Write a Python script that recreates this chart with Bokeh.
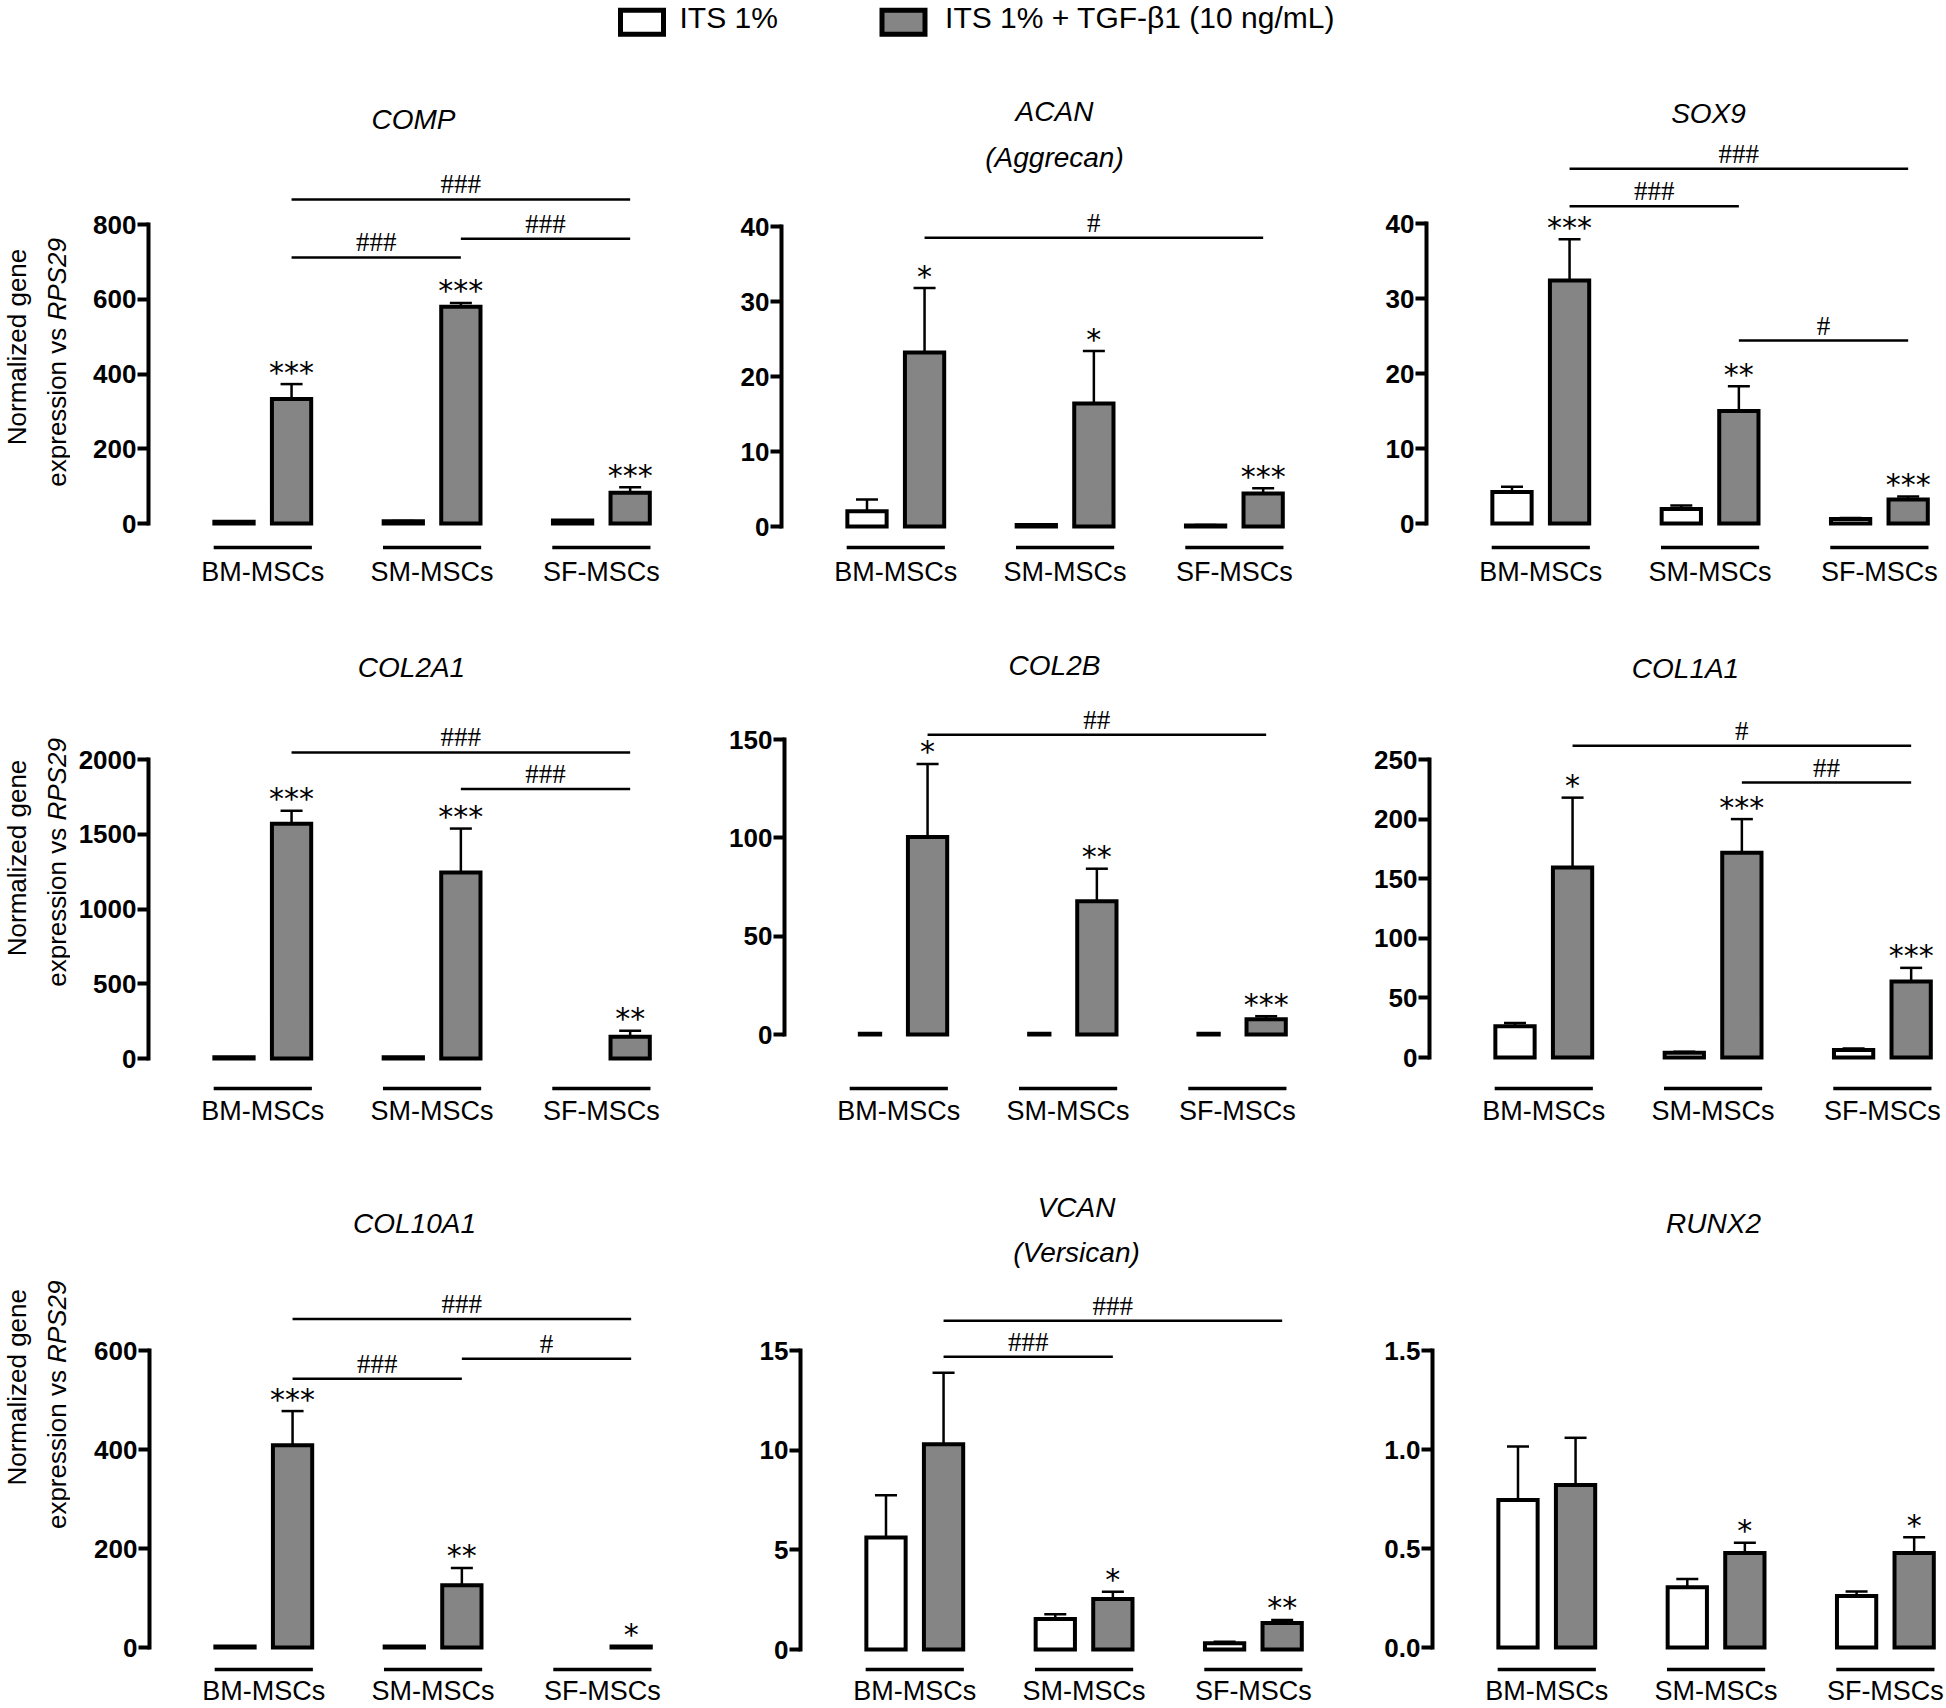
import math
import numpy as np
from bokeh.plotting import figure
from bokeh.layouts import column, row
from bokeh.models import Range1d, FixedTicker, Label, NumeralTickFormatter
from bokeh.core.properties import value
from bokeh.embed import file_html
from bokeh.resources import INLINE

NAN = float("nan")

# ---------------- data ----------------
GROUPS = ["BM-MSCs", "SM-MSCs", "SF-MSCs"]
SERIES = ["ITS 1%", "ITS 1% + TGF-\u03b21 (10 ng/mL)"]
SERIES_COLORS = ["#ffffff", "#858585"]
YLABEL_LINE1 = "Normalized gene"
YLABEL_LINE2 = ["expression vs ", "RPS29"]

COMP_ITS = [5, 6, 8]
COMP_ITS_SD = [0.5, 0.5, 0.5]
COMP_TGF = [333, 580, 82]
COMP_TGF_SD = [40, 10, 15]
COMP_STARS = ["***", "***", "***"]
COMP_SIG = [(0, 2, 867, "###"), (0, 1, 712, "###"), (1, 2, 762, "###")]
COMP_TICKS = [0, 200, 400, 600, 800]

ACAN_ITS = [2.05, 0.2, 0.15]
ACAN_ITS_SD = [1.55, 0.05, 0.05]
ACAN_TGF = [23.2, 16.4, 4.4]
ACAN_TGF_SD = [8.6, 7.0, 0.7]
ACAN_STARS = ["*", "*", "***"]
ACAN_SIG = [(0, 2, 38.5, "#")]
ACAN_TICKS = [0, 10, 20, 30, 40]

SOX9_ITS = [4.2, 1.95, 0.6]
SOX9_ITS_SD = [0.7, 0.45, 0.15]
SOX9_TGF = [32.4, 15.0, 3.2]
SOX9_TGF_SD = [5.5, 3.3, 0.4]
SOX9_STARS = ["***", "**", "***"]
SOX9_SIG = [(0, 2, 47.3, "###"), (0, 1, 42.3, "###"), (1, 2, 24.4, "#")]
SOX9_TICKS = [0, 10, 20, 30, 40]

COL2A1_ITS = [8, 8, NAN]
COL2A1_ITS_SD = [1, 1, NAN]
COL2A1_TGF = [1570, 1244, 145]
COL2A1_TGF_SD = [87, 294, 40]
COL2A1_STARS = ["***", "***", "**"]
COL2A1_SIG = [(0, 2, 2047, "###"), (1, 2, 1802, "###")]
COL2A1_TICKS = [0, 500, 1000, 1500, 2000]

COL2B_ITS = [0.4, 0.4, 0.4]
COL2B_ITS_SD = [0.05, 0.05, 0.05]
COL2B_TGF = [100.4, 67.7, 7.8]
COL2B_TGF_SD = [37.2, 16.6, 1.5]
COL2B_STARS = ["*", "**", "***"]
COL2B_SIG = [(0, 2, 152.4, "##")]
COL2B_TICKS = [0, 50, 100, 150]

COL1A1_ITS = [26.3, 3.9, 6.2]
COL1A1_ITS_SD = [2.7, 0.9, 1.3]
COL1A1_TGF = [159.4, 171.7, 63.8]
COL1A1_TGF_SD = [58.6, 28.3, 11.4]
COL1A1_STARS = ["*", "***", "***"]
COL1A1_SIG = [(0, 2, 261.5, "#"), (1, 2, 230.7, "##")]
COL1A1_TICKS = [0, 50, 100, 150, 200, 250]

COL10A1_ITS = [2, 2, NAN]
COL10A1_ITS_SD = [0.3, 0.3, NAN]
COL10A1_TGF = [409, 126, 2]
COL10A1_TGF_SD = [69, 35, 0.5]
COL10A1_STARS = ["***", "**", "*"]
COL10A1_SIG = [(0, 2, 664, "###"), (0, 1, 543.5, "###"), (1, 2, 584, "#")]
COL10A1_TICKS = [0, 200, 400, 600]

VCAN_ITS = [5.63, 1.53, 0.32]
VCAN_ITS_SD = [2.11, 0.24, 0.07]
VCAN_TGF = [10.3, 2.54, 1.33]
VCAN_TGF_SD = [3.6, 0.36, 0.16]
VCAN_STARS = ["", "*", "**"]
VCAN_SIG = [(0, 2, 16.5, "###"), (0, 1, 14.7, "###")]
VCAN_TICKS = [0, 5, 10, 15]

RUNX2_ITS = [0.746, 0.305, 0.261]
RUNX2_ITS_SD = [0.27, 0.041, 0.023]
RUNX2_TGF = [0.822, 0.478, 0.478]
RUNX2_TGF_SD = [0.238, 0.052, 0.08]
RUNX2_STARS = ["", "*", "*"]
RUNX2_SIG = []
RUNX2_TICKS = [0, 0.5, 1.0, 1.5]

# ---------------- style / layout ----------------
FONT = "Liberation Sans"
PXU = 169.3       # px per group unit
X0 = -0.675       # x value at the y-axis
FRAME_W = 521
OFF = 0.17
BAR_W = 0.232
CAP_W = 0.13
UL_W = 0.58
YLAB_W = 70

ROWS = [dict(top=46, h=554, fbot=552, ul=547, std=4),
        dict(top=600, h=540, fbot=1093, ul=1088, std=2),
        dict(top=1140, h=568, fbot=1675, ul=1671, std=2)]
COLS = [dict(left=YLAB_W, w=600), dict(left=670, w=670), dict(left=1340, w=606)]
YLAB = [(375, 388), (882, 883), (1403, 1419)]

PANELS = [
    dict(title=["COMP"], its=COMP_ITS, its_sd=COMP_ITS_SD, tgf=COMP_TGF, tgf_sd=COMP_TGF_SD,
         stars=COMP_STARS, sig=COMP_SIG, ticks=COMP_TICKS, fmt="0",
         axis_x=148, zero=523, top=224, tx=413, ty=[119]),
    dict(title=["ACAN", "(Aggrecan)"], its=ACAN_ITS, its_sd=ACAN_ITS_SD, tgf=ACAN_TGF, tgf_sd=ACAN_TGF_SD,
         stars=ACAN_STARS, sig=ACAN_SIG, ticks=ACAN_TICKS, fmt="0",
         axis_x=781, zero=526, top=226, tx=1054, ty=[111, 157]),
    dict(title=["SOX9"], its=SOX9_ITS, its_sd=SOX9_ITS_SD, tgf=SOX9_TGF, tgf_sd=SOX9_TGF_SD,
         stars=SOX9_STARS, sig=SOX9_SIG, ticks=SOX9_TICKS, fmt="0",
         axis_x=1426, zero=523, top=223, tx=1708, ty=[113]),
    dict(title=["COL2A1"], its=COL2A1_ITS, its_sd=COL2A1_ITS_SD, tgf=COL2A1_TGF, tgf_sd=COL2A1_TGF_SD,
         stars=COL2A1_STARS, sig=COL2A1_SIG, ticks=COL2A1_TICKS, fmt="0",
         axis_x=148, zero=1058, top=759, tx=411, ty=[667]),
    dict(title=["COL2B"], its=COL2B_ITS, its_sd=COL2B_ITS_SD, tgf=COL2B_TGF, tgf_sd=COL2B_TGF_SD,
         stars=COL2B_STARS, sig=COL2B_SIG, ticks=COL2B_TICKS, fmt="0", its_w=0.12,
         axis_x=784, zero=1034, top=739, tx=1054, ty=[665]),
    dict(title=["COL1A1"], its=COL1A1_ITS, its_sd=COL1A1_ITS_SD, tgf=COL1A1_TGF, tgf_sd=COL1A1_TGF_SD,
         stars=COL1A1_STARS, sig=COL1A1_SIG, ticks=COL1A1_TICKS, fmt="0",
         axis_x=1429, zero=1057, top=759, tx=1685, ty=[668]),
    dict(title=["COL10A1"], its=COL10A1_ITS, its_sd=COL10A1_ITS_SD, tgf=COL10A1_TGF, tgf_sd=COL10A1_TGF_SD,
         stars=COL10A1_STARS, sig=COL10A1_SIG, ticks=COL10A1_TICKS, fmt="0",
         axis_x=149, zero=1649, top=1351, tx=414, ty=[1223]),
    dict(title=["VCAN", "(Versican)"], its=VCAN_ITS, its_sd=VCAN_ITS_SD, tgf=VCAN_TGF, tgf_sd=VCAN_TGF_SD,
         stars=VCAN_STARS, sig=VCAN_SIG, ticks=VCAN_TICKS, fmt="0",
         axis_x=800, zero=1651, top=1351, tx=1076, ty=[1207, 1252]),
    dict(title=["RUNX2"], its=RUNX2_ITS, its_sd=RUNX2_ITS_SD, tgf=RUNX2_TGF, tgf_sd=RUNX2_TGF_SD,
         stars=RUNX2_STARS, sig=RUNX2_SIG, ticks=RUNX2_TICKS, fmt="0.0",
         axis_x=1432, zero=1649, top=1351, tx=1713, ty=[1223]),
]


def clean(p):
    p.xgrid.visible = False
    p.ygrid.visible = False
    p.outline_line_color = None
    p.background_fill_color = "white"
    p.border_fill_color = "white"


def make_panel(d, r, c):
    R = ROWS[r]
    C = COLS[c]
    ax = d["axis_x"]
    bl = ax - C["left"]
    fw = min(FRAME_W, C["left"] + C["w"] - ax)
    br = C["w"] - bl - fw
    fh = R["fbot"] - R["top"]
    M = d["ticks"][-1]
    s = (d["zero"] - d["top"]) / M

    def vy(py):
        return (d["zero"] - py) / s

    def vx(px):
        return X0 + (px - ax) / PXU

    p = figure(width=C["w"], height=R["h"],
               x_range=Range1d(X0, X0 + fw / PXU),
               y_range=Range1d(vy(R["fbot"]), vy(R["top"])),
               output_backend="svg", toolbar_location=None, title=None,
               min_border_left=bl, min_border_right=br, min_border_top=0,
               min_border_bottom=R["h"] - fh)
    clean(p)

    g = np.arange(3)
    series = [(d["its"], d["its_sd"], -OFF, SERIES_COLORS[0], d.get("its_w", BAR_W)),
              (d["tgf"], d["tgf_sd"], OFF, SERIES_COLORS[1], BAR_W)]
    for vals, sds, xoff, color, w in series:
        v = np.array(vals, dtype=float)
        e = np.array(sds, dtype=float)
        ok = np.isfinite(v)
        x = (g + xoff)[ok]
        top = v[ok]
        hi = (v + e)[ok]
        p.segment(x0=x, y0=top, x1=x, y1=hi, line_color="black", line_width=2.5)
        p.segment(x0=x - CAP_W / 2, y0=hi, x1=x + CAP_W / 2, y1=hi, line_color="black", line_width=2.5)
        p.vbar(x=x, top=top, bottom=0, width=w, fill_color=color, line_color="black",
               line_width=4, line_join="miter")

    # significance stars
    sx, sy, stx = [], [], []
    for i in range(3):
        if d["stars"][i]:
            sx.append(i + OFF)
            sy.append(d["tgf"][i] + d["tgf_sd"][i])
            stx.append(d["stars"][i])
    if sx:
        p.text(x=sx, y=sy, text=stx, text_align="center", text_baseline="middle", y_offset=-12,
               text_font=value("DejaVu Sans"), text_font_size=value("30px"), text_color="black")

    # comparison lines between groups
    for (i, j, yv, lab) in d["sig"]:
        p.segment(x0=[i + OFF], y0=[yv], x1=[j + OFF], y1=[yv], line_color="black", line_width=2.5)
        p.text(x=[(i + j) / 2 + OFF], y=[yv], text=[lab], text_align="center", text_baseline="middle",
               y_offset=-15, text_font=value("Liberation Serif"), text_font_size=value("27px"),
               text_color="black")

    # group underlines
    uy = vy(R["ul"])
    p.segment(x0=g - UL_W / 2, y0=[uy] * 3, x1=g + UL_W / 2, y1=[uy] * 3, line_color="black", line_width=3.5)

    # y axis
    yax = p.yaxis[0]
    yax.ticker = FixedTicker(ticks=d["ticks"])
    yax.formatter = NumeralTickFormatter(format=d["fmt"])
    yax.bounds = (0, M)
    yax.axis_line_width = 4
    yax.axis_line_cap = "square"
    yax.major_tick_line_width = 4
    yax.major_tick_out = 11
    yax.major_tick_in = 0
    yax.minor_tick_line_color = None
    yax.major_label_text_font = FONT
    yax.major_label_text_font_style = "bold"
    yax.major_label_text_font_size = "26px"
    yax.major_label_text_color = "black"
    yax.major_label_standoff = 1

    # x axis (group names)
    xax = p.xaxis[0]
    xax.ticker = FixedTicker(ticks=[0, 1, 2])
    xax.major_label_overrides = {0: GROUPS[0], 1: GROUPS[1], 2: GROUPS[2]}
    xax.axis_line_color = None
    xax.major_tick_line_color = None
    xax.minor_tick_line_color = None
    xax.major_tick_out = 0
    xax.major_label_text_font = FONT
    xax.major_label_text_font_size = "27px"
    xax.major_label_text_color = "black"
    xax.major_label_standoff = R["std"]

    # panel title
    for k, line in enumerate(d["title"]):
        p.add_layout(Label(x=vx(d["tx"]), y=vy(d["ty"][k]), text=line, text_font=FONT,
                           text_font_style="italic", text_font_size="28px", text_align="center",
                           text_baseline="middle", text_color="black"))
    return p


def make_ylabel(r):
    R = ROWS[r]
    c1, c2 = YLAB[r]
    q = figure(width=YLAB_W, height=R["h"], x_range=Range1d(0, YLAB_W),
               y_range=Range1d(-(R["top"] + R["h"]), -R["top"]),
               output_backend="svg", toolbar_location=None, title=None,
               x_axis_type=None, y_axis_type=None,
               min_border_left=0, min_border_right=0, min_border_top=0, min_border_bottom=0)
    clean(q)
    common = dict(angle=math.pi / 2, text_baseline="middle", text_font=value(FONT),
                  text_font_size=value("26px"), text_color="black")
    q.text(x=[16], y=[-c1], text=[YLABEL_LINE1], text_align="center", **common)
    j = c2 - 42
    q.text(x=[56], y=[-j], text=[YLABEL_LINE2[0]], text_align="right", **common)
    q.text(x=[56], y=[-j], text=[YLABEL_LINE2[1]], text_align="left", text_font_style="italic", **common)
    return q


# ---------------- legend ----------------
leg = figure(width=1946, height=46, x_range=Range1d(0, 1946), y_range=Range1d(0, 46),
             output_backend="svg", toolbar_location=None, title=None,
             x_axis_type=None, y_axis_type=None,
             min_border_left=0, min_border_right=0, min_border_top=0, min_border_bottom=0)
clean(leg)
leg.rect(x=[641.5, 903], y=[24.3, 24.3], width=43, height=24, fill_color=SERIES_COLORS,
         line_color="black", line_width=5, line_join="miter")
leg.text(x=[679, 944.6], y=[29.5, 29.5], text=SERIES, text_align="left", text_baseline="middle",
         text_font=value(FONT), text_font_size=value("30px"), text_color="black")

plots = [make_panel(d, k // 3, k % 3) for k, d in enumerate(PANELS)]
rows = [row(make_ylabel(r), *plots[3 * r:3 * r + 3]) for r in range(3)]
layout = column(leg, *rows)

open("out.html", "w").write(file_html(layout, INLINE))
